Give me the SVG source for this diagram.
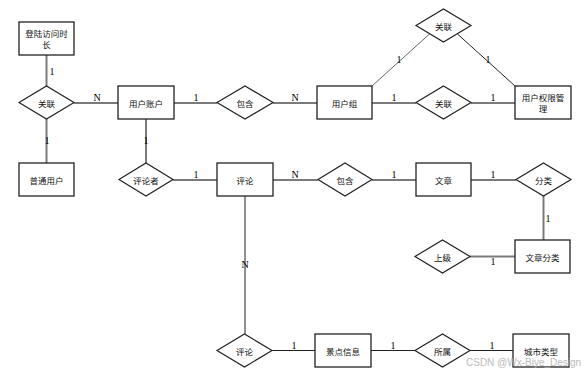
<svg xmlns="http://www.w3.org/2000/svg" width="585" height="373" viewBox="0 0 585 373">
<style>
.e{fill:#fff;stroke:#222;stroke-width:1.2}
.r{fill:#fff;stroke:#222;stroke-width:1.3}
.t{font-family:"Noto Sans CJK SC","Liberation Sans",sans-serif;font-size:8.5px;fill:#111;text-anchor:middle;dominant-baseline:central}
.g{stroke:#7a7a7a;stroke-width:2;fill:none}
.k{stroke:#222;stroke-width:1;fill:none}
.gt{stroke:#666;stroke-width:1;fill:none}
.l{font-family:"Liberation Serif",serif;font-size:10px;fill:#000;text-anchor:middle;dominant-baseline:central}
</style>
<rect width="585" height="373" fill="#fff"/>
<g id="connectors">
<line class="g" x1="46.5" y1="55" x2="46.5" y2="86"/>
<line class="g" x1="46.5" y1="119" x2="46.5" y2="163"/>
<line class="g" x1="74" y1="103" x2="118" y2="103"/>
<line class="g" x1="174" y1="103" x2="217" y2="103"/>
<line class="g" x1="273" y1="103" x2="317" y2="103"/>
<line class="g" x1="372" y1="103" x2="416" y2="103"/>
<line class="g" x1="471" y1="103" x2="515" y2="103"/>
<line class="gt" x1="372" y1="86" x2="429.5" y2="34"/>
<line class="k" x1="457.5" y1="34" x2="515" y2="86"/>
<line class="g" x1="146" y1="119" x2="146" y2="163"/>
<line class="g" x1="173" y1="180" x2="217" y2="180"/>
<line class="g" x1="273" y1="180" x2="318" y2="180"/>
<line class="g" x1="372" y1="180" x2="416" y2="180"/>
<line class="g" x1="471" y1="180" x2="516" y2="180"/>
<line class="g" x1="543.5" y1="196" x2="543.5" y2="240"/>
<line class="g" x1="470" y1="256.5" x2="515" y2="256.5"/>
<line class="k" x1="245" y1="196" x2="245" y2="334"/>
<line class="k" x1="271" y1="350.5" x2="315" y2="350.5"/>
<line class="k" x1="371" y1="350.5" x2="415" y2="350.5"/>
<line class="k" x1="470" y1="350.5" x2="513" y2="350.5"/>
<text class="l" x="52" y="71">1</text>
<text class="l" x="47" y="140">1</text>
<text class="l" x="97" y="97">N</text>
<text class="l" x="196" y="97">1</text>
<text class="l" x="295" y="97">N</text>
<text class="l" x="394" y="97">1</text>
<text class="l" x="493" y="97">1</text>
<text class="l" x="399" y="59">1</text>
<text class="l" x="488" y="59">1</text>
<text class="l" x="146" y="140">1</text>
<text class="l" x="196" y="174">1</text>
<text class="l" x="295" y="174">N</text>
<text class="l" x="394" y="174">1</text>
<text class="l" x="493" y="174">1</text>
<text class="l" x="548" y="218">1</text>
<text class="l" x="493" y="261">1</text>
<text class="l" x="245" y="264">N</text>
<text class="l" x="294" y="345">1</text>
<text class="l" x="393" y="345">1</text>
<text class="l" x="492" y="345">1</text>
</g>
<g id="n-dlfwsc"><rect class="r" x="19" y="22" width="55" height="33"/><text class="t" x="46.5" y="33">登陆访问时</text><text class="t" x="46.5" y="44">长</text></g>
<g id="n-guanlian1"><polygon class="e" points="19,102.5 46.5,86 74,102.5 46.5,119"/><text class="t" x="46.5" y="102.5">关联</text></g>
<g id="n-ptyh"><rect class="r" x="19" y="163" width="55" height="33"/><text class="t" x="46.5" y="179.5">普通用户</text></g>
<g id="n-yhzh"><rect class="r" x="118" y="86" width="56" height="33"/><text class="t" x="146" y="102.5">用户账户</text></g>
<g id="n-baohan1"><polygon class="e" points="217,102.5 245,86 273,102.5 245,119"/><text class="t" x="245" y="102.5">包含</text></g>
<g id="n-yhz"><rect class="r" x="317" y="86" width="55" height="33"/><text class="t" x="344.5" y="102.5">用户组</text></g>
<g id="n-guanlian2"><polygon class="e" points="416,25.5 443.5,9 471,25.5 443.5,42"/><text class="t" x="443.5" y="25.5">关联</text></g>
<g id="n-guanlian3"><polygon class="e" points="416,102.5 443.5,86 471,102.5 443.5,119"/><text class="t" x="443.5" y="102.5">关联</text></g>
<g id="n-yhqxgl"><rect class="r" x="515" y="86" width="56" height="33"/><text class="t" x="543" y="97">用户权限管</text><text class="t" x="543" y="108">理</text></g>
<g id="n-plz"><polygon class="e" points="119,179.5 146,163 173,179.5 146,196"/><text class="t" x="146" y="179.5">评论者</text></g>
<g id="n-pl"><rect class="r" x="217" y="163" width="56" height="33"/><text class="t" x="245" y="179.5">评论</text></g>
<g id="n-baohan2"><polygon class="e" points="318,179.5 345,163 372,179.5 345,196"/><text class="t" x="345" y="179.5">包含</text></g>
<g id="n-wz"><rect class="r" x="416" y="163" width="55" height="33"/><text class="t" x="443.5" y="179.5">文章</text></g>
<g id="n-fenlei"><polygon class="e" points="516,179.5 543.5,163 571,179.5 543.5,196"/><text class="t" x="543.5" y="179.5">分类</text></g>
<g id="n-shangji"><polygon class="e" points="415,256.5 442.5,240 470,256.5 442.5,273"/><text class="t" x="442.5" y="256.5">上级</text></g>
<g id="n-wzfl"><rect class="r" x="515" y="240" width="55" height="33"/><text class="t" x="542.5" y="256.5">文章分类</text></g>
<g id="n-pinglun"><polygon class="e" points="217,350.5 244.5,334 272,350.5 244.5,367"/><text class="t" x="244.5" y="350.5">评论</text></g>
<g id="n-jdxx"><rect class="r" x="315" y="334" width="56" height="33"/><text class="t" x="343" y="350.5">景点信息</text></g>
<g id="n-suoshu"><polygon class="e" points="415,350.5 442.5,334 470,350.5 442.5,367"/><text class="t" x="442.5" y="350.5">所属</text></g>
<g id="n-cslx"><rect class="r" x="513" y="334" width="56" height="33"/><text class="t" x="541" y="350.5">城市类型</text></g>
<text x="466" y="366" font-family="Liberation Sans,sans-serif" font-size="10" fill="#b4b4b4" opacity="0.9">CSDN @Wx-Biye_Design</text>
</svg>
